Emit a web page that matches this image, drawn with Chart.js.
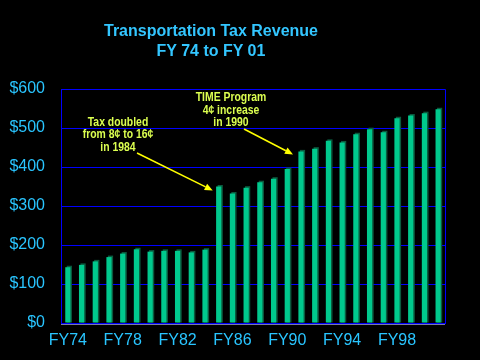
<!DOCTYPE html>
<html>
<head>
<meta charset="utf-8">
<script src="https://cdn.jsdelivr.net/npm/chart.js@4"></script>
<style>
html,body{margin:0;padding:0;background:#000;}
#wrap{position:relative;width:480px;height:360px;background:#000;}
#title{position:absolute;left:0;top:21px;width:422px;text-align:center;color:#33c6ff;font:bold 16px "Liberation Sans",Arial,sans-serif;line-height:19.5px;}
canvas{position:absolute;left:0;top:0;}
</style>
</head>
<body>
<div id="wrap">
<canvas id="c" width="480" height="360"></canvas>
<div id="title">Transportation Tax Revenue<br>FY 74 to FY 01</div>
</div>
<script>
const categories = ["FY74","FY75","FY76","FY77","FY78","FY79","FY80","FY81","FY82","FY83","FY84","FY85","FY86","FY87","FY88","FY89","FY90","FY91","FY92","FY93","FY94","FY95","FY96","FY97","FY98","FY99","FY00","FY01"];
const revenue = [143,149,158,169,178,189,183,185,185,181,188,350,332,347,361,370,395,440,447,467,463,484,497,489,525,532,538,548];
const yTicks = [0,100,200,300,400,500,600];
const shownLabels = ["FY74","FY78","FY82","FY86","FY90","FY94","FY98"];
const note1 = ["Tax doubled","from 8\u00a2 to 16\u00a2","in 1984"];
const note2 = ["TIME Program","4\u00a2 increase","in 1990"];
const note1Bar = "FY85";
const note2Bar = "FY91";

const noteFont = 'bold 13px "Liberation Sans",Arial,sans-serif';
const noteSquash = 0.8;

const decor = {
  id: 'decor',
  beforeDatasetsDraw(chart) {
    const ctx = chart.ctx;
    const meta = chart.getDatasetMeta(0);
    ctx.save();
    ctx.fillStyle = '#0b5a3e';
    meta.data.forEach(b => {
      const w = b.width;
      ctx.fillRect(b.x - w/2 + 1.5, b.y - 1.5, w, b.base - b.y + 1.5);
    });
    ctx.restore();
  },
  afterDatasetsDraw(chart) {
    const ctx = chart.ctx;
    const xs = chart.scales.x, ys = chart.scales.y;
    const a = chart.chartArea;
    ctx.save();
    // bottom axis line
    ctx.strokeStyle = '#7a7aa8';
    ctx.lineWidth = 1;
    ctx.beginPath();
    ctx.moveTo(a.left, Math.round(a.bottom) + 1.5);
    ctx.lineTo(a.right, Math.round(a.bottom) + 1.5);
    ctx.stroke();
    // annotations
    ctx.fillStyle = '#dcff50';
    ctx.font = noteFont;
    ctx.textAlign = 'center';
    ctx.textBaseline = 'middle';
    function note(lines, cx, cy, step) {
      ctx.save();
      ctx.translate(cx, 0);
      ctx.scale(noteSquash, 1);
      lines.forEach((t, i) => ctx.fillText(t, 0, cy + i * step));
      ctx.restore();
    }
    note(note1, 118, 122, 12.5);
    note(note2, 231, 97.5, 12.6);
    function arrow(x0, y0, x1, y1) {
      ctx.strokeStyle = '#ffff00';
      ctx.fillStyle = '#ffff00';
      ctx.lineWidth = 1.5;
      const ang = Math.atan2(y1 - y0, x1 - x0);
      const L = 8, Wd = 3.5;
      const bx = x1 - L * Math.cos(ang), by = y1 - L * Math.sin(ang);
      ctx.beginPath();
      ctx.moveTo(x0, y0);
      ctx.lineTo(bx, by);
      ctx.stroke();
      ctx.beginPath();
      ctx.moveTo(x1, y1);
      ctx.lineTo(bx + Wd * Math.sin(ang), by - Wd * Math.cos(ang));
      ctx.lineTo(bx - Wd * Math.sin(ang), by + Wd * Math.cos(ang));
      ctx.closePath();
      ctx.fill();
    }
    const i1 = categories.indexOf(note1Bar), i2 = categories.indexOf(note2Bar);
    arrow(137, 153, xs.getPixelForValue(i1) - 6, ys.getPixelForValue(revenue[i1]) + 4);
    arrow(244, 129, xs.getPixelForValue(i2) - 8, ys.getPixelForValue(revenue[i2]) + 3);
    ctx.restore();
  }
};

new Chart(document.getElementById('c'), {
  type: 'bar',
  data: {
    labels: categories,
    datasets: [{
      data: revenue,
      backgroundColor: '#00c98d',
      borderWidth: 0,
      categoryPercentage: 1,
      barPercentage: 0.38
    }]
  },
  options: {
    responsive: false,
    animation: false,
    devicePixelRatio: 1,
    layout: { padding: { left: 0, right: 35, top: 89, bottom: 0 } },
    plugins: { legend: { display: false }, title: { display: false }, tooltip: { enabled: false } },
    scales: {
      x: {
        grid: { display: false, drawTicks: false },
        border: { display: false },
        ticks: {
          autoSkip: false,
          maxRotation: 0,
          padding: 8,
          color: '#29c5ff',
          font: { family: '"Liberation Sans", Arial, sans-serif', size: 16 },
          callback: function(v) { const l = categories[v]; return shownLabels.includes(l) ? l : ''; }
        },
        afterFit(s) { s.height = 37; }
      },
      y: {
        min: 0, max: 600,
        afterBuildTicks(s) { s.ticks = yTicks.map(v => ({ value: v })); },
        grid: { color: '#0000ff', lineWidth: 1, drawTicks: false },
        border: { display: true, color: '#0000ff' },
        ticks: {
          padding: 16,
          color: '#29c5ff',
          font: { family: '"Liberation Sans", Arial, sans-serif', size: 16 },
          callback: v => '$' + v
        },
        afterFit(s) { s.width = 61; }
      }
    }
  },
  plugins: [decor, {
    id: 'frame',
    beforeDraw(chart) {
      const ctx = chart.ctx;
      ctx.save();
      ctx.fillStyle = '#000';
      ctx.fillRect(0, 0, chart.width, chart.height);
      const a = chart.chartArea;
      ctx.strokeStyle = '#0000ff';
      ctx.lineWidth = 1;
      ctx.beginPath();
      ctx.moveTo(a.left, a.top + 0.5);
      ctx.lineTo(Math.round(a.right) + 0.5, a.top + 0.5);
      ctx.lineTo(Math.round(a.right) + 0.5, a.bottom + 1);
      ctx.stroke();
      ctx.restore();
    }
  }]
});
</script>
</body>
</html>
